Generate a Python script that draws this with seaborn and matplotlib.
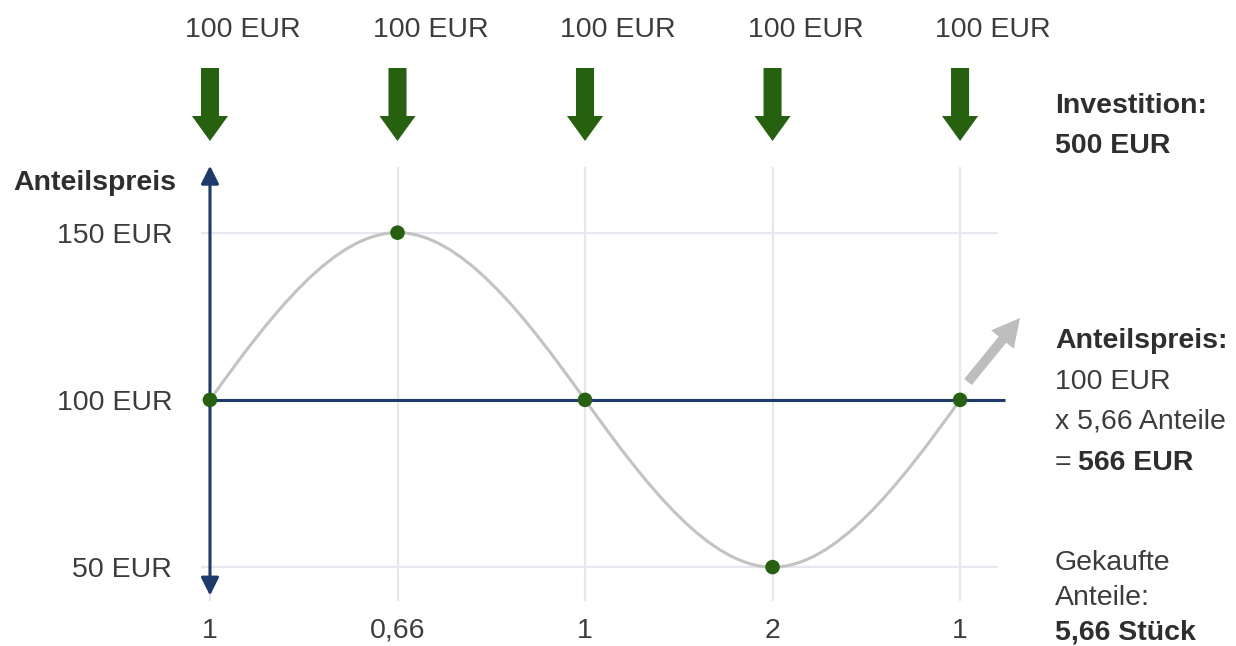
import numpy as np
import matplotlib
matplotlib.use("Agg")
import matplotlib.pyplot as plt
from matplotlib.path import Path
from matplotlib.patches import PathPatch, FancyArrowPatch
import seaborn as sns
import pandas as pd

# ---- data ----
x_labels = ["1", "0,66", "1", "2", "1"]          # shares bought each month
prices = [100, 150, 100, 50, 100]                 # share price (EUR)
deposits = ["100 EUR"] * 5                        # monthly investment
y_ticks = [50, 100, 150]
y_tick_labels = ["50 EUR", "100 EUR", "150 EUR"]

W, H = 1236, 646
sns.set_style("white")
plt.rcParams["font.family"] = ["Liberation Sans", "DejaVu Sans"]

fig = plt.figure(figsize=(W / 100, H / 100), dpi=100)
# axes: x from -0.05..4.2, y from 40..169.5
ax = fig.add_axes([0.1623, 0.0704, 0.6448, 0.6704])

GREEN = "#26610f"
NAVY = "#1d3a6b"
GRID = "#e6e8ef"
CURVE = "#c3c3c3"
TXT = "#3c3c3c"
BOLD = "#2e2e2e"
FS = 20.5

idx = np.arange(len(prices))
df = pd.DataFrame({"i": idx, "price": prices})

ax.set_xlim(-0.05, 4.2)
ax.set_ylim(40, 169.5)
for s in ax.spines.values():
    s.set_visible(False)

ax.set_xticks(idx)
ax.set_xticklabels(x_labels)
ax.set_yticks(y_ticks)
ax.set_yticklabels(y_tick_labels)
ax.tick_params(axis="x", length=0, pad=12.5, labelsize=FS, labelcolor=TXT)
ax.tick_params(axis="y", length=0, pad=20.5, labelsize=FS, labelcolor=TXT)
ax.grid(True, color=GRID, lw=1.6, zorder=0)
ax.set_axisbelow(True)

# smooth price curve (cubic Bezier through the data points)
y = np.array(prices, dtype=float)
k = np.pi / 2
m = np.zeros_like(y)
m[0] = (y[1] - y[0]) * k
m[-1] = (y[-1] - y[-2]) * k
m[1:-1] = (y[2:] - y[:-2]) / 2 * k
verts = [(idx[0], y[0])]
codes = [Path.MOVETO]
for i in range(len(y) - 1):
    verts += [(idx[i] + 1 / 3, y[i] + m[i] / 3),
              (idx[i + 1] - 1 / 3, y[i + 1] - m[i + 1] / 3),
              (idx[i + 1], y[i + 1])]
    codes += [Path.CURVE4] * 3
ax.add_patch(PathPatch(Path(verts, codes), facecolor="none", edgecolor=CURVE, lw=2.2, zorder=2))

# reference line at the average price and the vertical axis
ax.plot([0, 4.24], [prices[0], prices[0]], color=NAVY, lw=2.2, zorder=3, clip_on=False,
        solid_capstyle="butt")
ax.annotate("", xy=(0, 170), xytext=(0, 41.5),
            arrowprops=dict(arrowstyle="<|-|>,head_length=0.9,head_width=0.45",
                            color=NAVY, lw=2.2, shrinkA=0, shrinkB=0, mutation_scale=12),
            annotation_clip=False, zorder=3)

sns.scatterplot(data=df, x="i", y="price", color=GREEN, s=110, edgecolor="none",
                zorder=5, ax=ax, legend=False, clip_on=False)
ax.set_xlabel("")
ax.set_ylabel("")

def fy(py):
    return 1 - py / H

def fx(px):
    return px / W

# deposit arrows and labels
for i, lab in zip(idx, deposits):
    ax.annotate(lab, xy=(i, fy(30)), xycoords=("data", "figure fraction"),
                xytext=(-18, 0), textcoords="offset points",
                ha="left", va="center", fontsize=FS, color=TXT, annotation_clip=False)
    ax.annotate("", xy=(i, fy(141)), xytext=(i, fy(68)),
                xycoords=("data", "figure fraction"), textcoords=("data", "figure fraction"),
                arrowprops=dict(arrowstyle="simple,head_length=18,head_width=26,tail_width=13",
                                color=GREEN, lw=0, shrinkA=0, shrinkB=0, mutation_scale=1),
                annotation_clip=False)

# axis title
fig.text(fx(13), fy(183), "Anteilspreis", fontsize=FS, fontweight="bold", color=BOLD,
         ha="left", va="center")

# gray trend arrow
fig.add_artist(FancyArrowPatch(
    (968, H - 382), (1020, H - 318), transform=None,
    arrowstyle="simple,head_length=20,head_width=21,tail_width=7",
    color="#bdbdbd", lw=0, shrinkA=0, shrinkB=0, mutation_scale=1))

# right-side notes
RX = fx(1055)
fig.text(RX, fy(106), "Investition:", fontsize=FS, fontweight="bold", color=BOLD, va="center")
fig.text(RX, fy(146), "500 EUR", fontsize=FS, fontweight="bold", color=BOLD, va="center")
fig.text(RX, fy(341), "Anteilspreis:", fontsize=FS, fontweight="bold", color=BOLD, va="center")
fig.text(RX, fy(382), "100 EUR", fontsize=FS, color=TXT, va="center")
fig.text(RX, fy(422), "x 5,66 Anteile", fontsize=FS, color=TXT, va="center")
fig.text(RX, fy(463), "=", fontsize=FS, color=TXT, va="center")
fig.text(fx(1078), fy(463), "566 EUR", fontsize=FS, fontweight="bold", color=BOLD, va="center")
fig.text(RX, fy(563), "Gekaufte", fontsize=FS, color=TXT, va="center")
fig.text(RX, fy(598), "Anteile:", fontsize=FS, color=TXT, va="center")
fig.text(RX, fy(633), "5,66 Stück", fontsize=FS, fontweight="bold", color=BOLD, va="center")

fig.savefig("out.png", dpi=100)
